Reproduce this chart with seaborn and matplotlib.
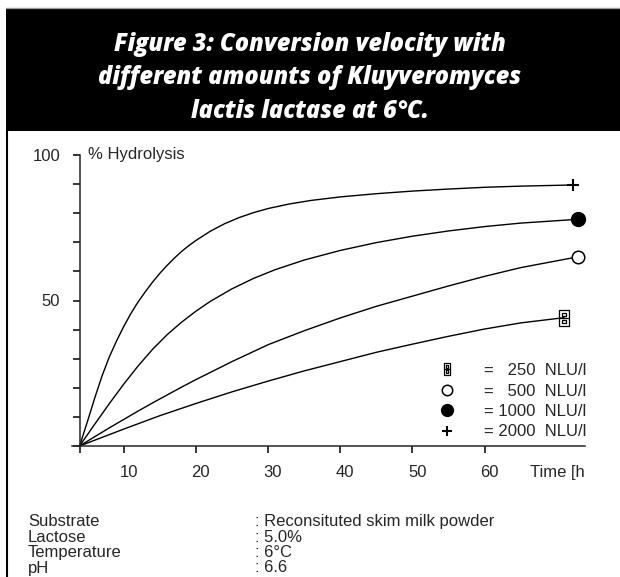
import numpy as np
import pandas as pd
import matplotlib.pyplot as plt
import seaborn as sns
from matplotlib.lines import Line2D
from matplotlib.patches import Rectangle
from matplotlib.path import Path
import matplotlib.transforms as mtransforms

# Data (time in h, % hydrolysis)
t_250 = [3.9, 10, 15, 20, 25, 30, 35, 40, 45, 50, 55, 60, 65, 71]
v_250 = [0, 5.8, 10.4, 14.6, 18.6, 22.3, 25.8, 29, 32.2, 35, 37.7, 40.2, 42.3, 44.1]

t_500 = [3.9, 6, 8, 10, 12, 14, 16, 18, 20, 25, 30, 35, 40, 45, 50, 55, 60, 65, 72.9]
v_500 = [0, 3.2, 6.2, 9.1, 12, 14.8, 17.5, 20.2, 22.8, 29, 34.8, 39.6, 44, 48, 51.5, 55, 58.3, 61.3, 65]

t_1000 = [3.9, 6, 8, 10, 12, 14, 16, 18, 20, 22, 25, 28, 31, 35, 40, 45, 50, 55, 60, 65, 72.9]
v_1000 = [0, 7.5, 14.5, 21.2, 27.5, 33.2, 38.2, 42.5, 46.3, 49.7, 54.0, 57.6, 60.6, 63.9,
          67.2, 69.9, 72.1, 73.9, 75.4, 76.6, 77.9]

t_2000 = [3.9, 5, 6, 7, 8, 9, 10, 11, 12, 13, 14, 15, 16, 17, 18, 19, 20, 22, 24, 26, 28,
          30, 33, 36, 40, 45, 50, 55, 60, 65, 72.2]
v_2000 = [0, 8.5, 16.5, 24, 30.5, 36, 41, 45.5, 49.5, 53, 56.3, 59.3, 62, 64.5, 66.8, 68.8,
          70.6, 73.8, 76.4, 78.5, 80.2, 81.6, 83.2, 84.4, 85.6, 86.7, 87.6, 88.3, 88.9, 89.3, 89.7]

doses = ["250", "500", "1000", "2000"]
legend_labels = ["=   250  NLU/l", "=   500  NLU/l", "= 1000  NLU/l", "= 2000  NLU/l"]
x_ticks = [10, 20, 30, 40, 50, 60]
y_ticks = [0, 10, 20, 30, 40, 50, 60, 70, 80, 90, 100]

title = "Figure 3: Conversion velocity with\ndifferent amounts of Kluyveromyces\nlactis lactase at 6°C."
cond_names = ["Substrate", "Lactose", "Temperature", "pH"]
cond_values = [": Reconsituted skim milk powder", ": 5.0%", ": 6°C", ": 6.6"]

series = {"250": (t_250, v_250), "500": (t_500, v_500),
          "1000": (t_1000, v_1000), "2000": (t_2000, v_2000)}
df = pd.concat([pd.DataFrame({"time": t, "hydrolysis": v, "dose": d})
                for d, (t, v) in series.items()], ignore_index=True)

sns.set_style("ticks")
plt.rcParams["font.family"] = ["Liberation Sans", "DejaVu Sans"]
plt.rcParams["font.size"] = 12

W, H = 620, 577
fig = plt.figure(figsize=(W / 100, H / 100), dpi=100)

# page decorations: black title block and left rule
fig.add_artist(Rectangle((6 / W, 1 - 131 / H), 1 - 6 / W, 123 / H,
                         transform=fig.transFigure, color="black", lw=0))
fig.add_artist(Line2D([6 / W, 1], [1 - 7.5 / H] * 2, transform=fig.transFigure,
                      color="#999999", lw=1))
fig.add_artist(Line2D([6.5 / W] * 2, [0, 1 - 131 / H], transform=fig.transFigure,
                      color="black", lw=1.5))
fig.text(310 / W, 1 - 78 / H, title, color="white", ha="center", va="center",
         fontsize=17, fontweight="heavy", style="italic", linespacing=1.47,
         family=["Open Sans", "DejaVu Sans"])

x0 = 3.9
ax = fig.add_axes([72 / W, 1 - 446 / H, 513 / W, 291 / H])
sns.lineplot(data=df, x="time", y="hydrolysis", hue="dose", hue_order=doses,
             palette=["black"] * 4, linewidth=1.0, legend=False, ax=ax,
             estimator=None, sort=True)

# end markers
box = Path([(-0.3, -0.5), (0.3, -0.5), (0.3, 0.5), (-0.3, 0.5), (-0.3, -0.5),
            (-0.3, 0), (0.3, 0),
            (-0.13, 0.12), (0.13, 0.12), (0.13, 0.35), (-0.13, 0.35), (-0.13, 0.12),
            (-0.13, -0.35), (0.13, -0.35), (0.13, -0.12), (-0.13, -0.12), (-0.13, -0.35)],
           [Path.MOVETO, Path.LINETO, Path.LINETO, Path.LINETO, Path.LINETO,
            Path.MOVETO, Path.LINETO,
            Path.MOVETO, Path.LINETO, Path.LINETO, Path.LINETO, Path.LINETO,
            Path.MOVETO, Path.LINETO, Path.LINETO, Path.LINETO, Path.LINETO])
styles = {
    "250": dict(marker=box, ms=11, mfc="none", mec="black", mew=0.9),
    "500": dict(marker="o", ms=9, mfc="white", mec="black", mew=1.1),
    "1000": dict(marker="o", ms=10, mfc="black", mec="black"),
    "2000": dict(marker="+", ms=9, mec="black", mew=1.5),
}
for d in doses:
    t, v = series[d]
    ax.plot(t[-1], v[-1], ls="none", clip_on=False, zorder=5, **styles[d])

# legend
leg_sizes = {"250": 8, "500": 7.5, "1000": 8.5, "2000": 7}
handles = []
for d in doses:
    st = dict(styles[d])
    st["ms"] = leg_sizes[d]
    handles.append(Line2D([], [], ls="none", **st))
ax.legend(handles, legend_labels, loc="upper left", frameon=False,
          bbox_to_anchor=((439 - 72) / 513, (446 - 363) / 291),
          borderpad=0, borderaxespad=0, handlelength=1.0, handletextpad=1.7,
          labelspacing=0.33, fontsize=12)

ax.set_xlim(2.85, 73.9)
ax.set_ylim(0, 100)
sns.despine(ax=ax)
ax.spines["left"].set_position(("data", x0))
for s in ["left", "bottom"]:
    ax.spines[s].set_linewidth(1.1)

ax.set_xticks([x0] + x_ticks)
ax.set_xticklabels([""] + [str(x) for x in x_ticks])
ax.set_yticks(y_ticks)
ax.set_yticklabels(["50" if y == 50 else "100" if y == 100 else "" for y in y_ticks])
ax.tick_params(axis="both", direction="out", length=5, width=1.1, pad=9,
               labelsize=12, color="black")
offset = mtransforms.ScaledTranslation(5 / 100, 0, fig.dpi_scale_trans)
for lab in ax.get_xticklabels():
    lab.set_transform(lab.get_transform() + offset)
ax.set_xlabel("")
ax.set_ylabel("")

ax.annotate("% Hydrolysis", xy=(x0, 100), xytext=(8, 0), textcoords="offset pixels",
            ha="left", va="center", fontsize=12)
ax.annotate("Time [h", xy=(1, 0), xycoords="axes fraction", xytext=(0, -27),
            textcoords="offset pixels", ha="right", va="center", fontsize=12)

# experimental conditions
for i, (n, v) in enumerate(zip(cond_names, cond_values)):
    y = 1 - (521.5 + i * 15.5) / H
    fig.text(28 / W, y, n, ha="left", va="center", fontsize=12)
    fig.text(255 / W, y, v, ha="left", va="center", fontsize=12)

plt.savefig("out.png", dpi=100)
